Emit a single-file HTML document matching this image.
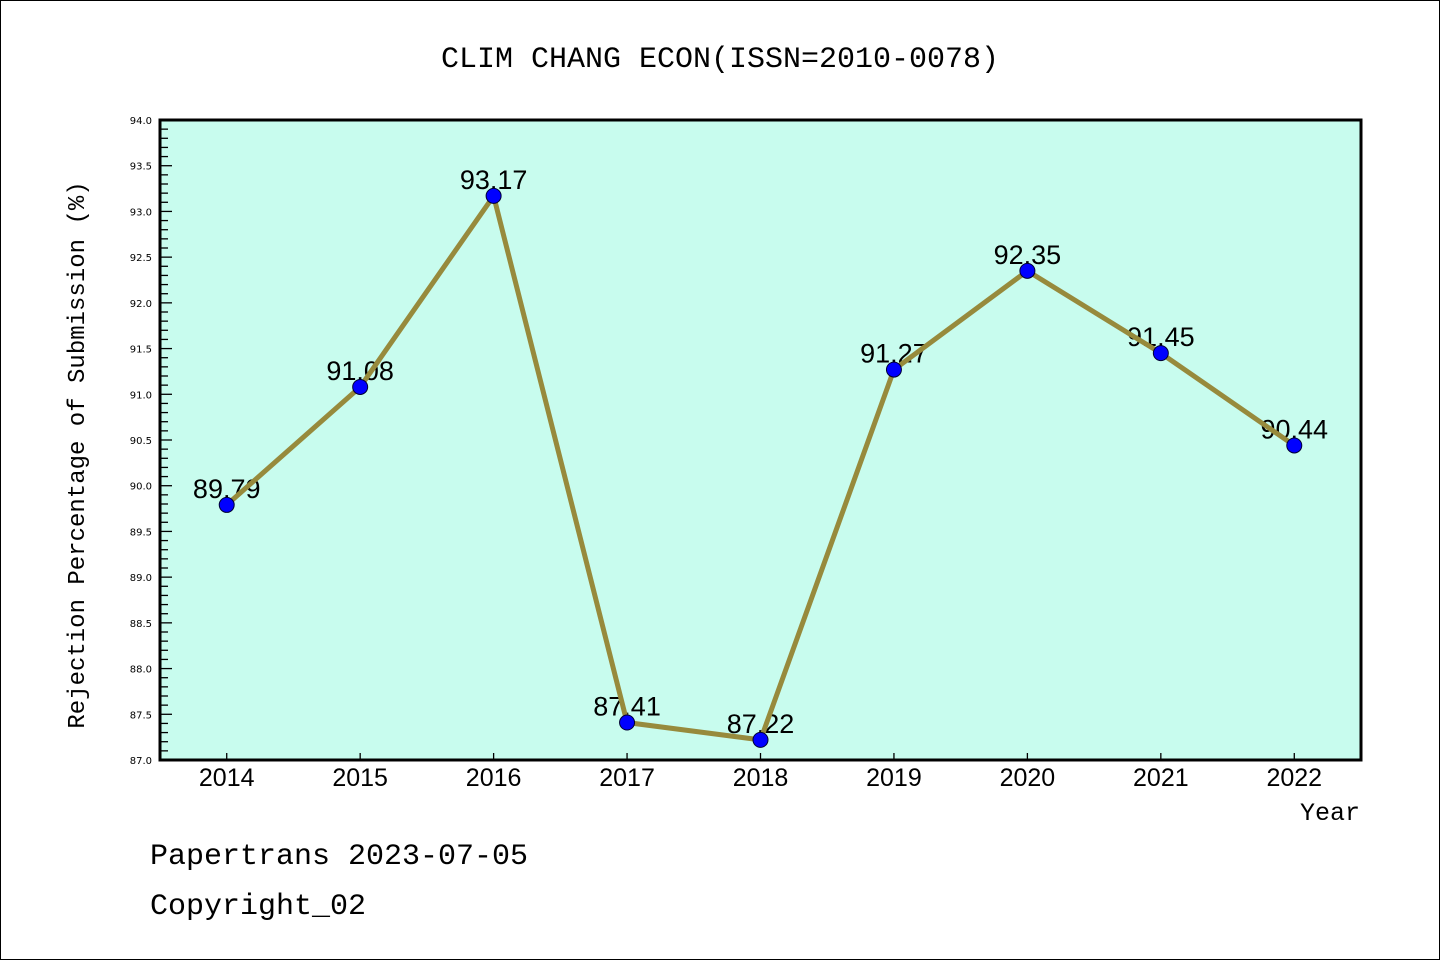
<!DOCTYPE html>
<html><head><meta charset="utf-8"><style>
html,body{margin:0;padding:0;background:#fff;}
svg{display:block;}
</style></head><body>
<svg width="1440" height="960" viewBox="0 0 1440 960" xmlns="http://www.w3.org/2000/svg">
<rect x="0.5" y="0.5" width="1439" height="959" fill="#fff" stroke="#000" stroke-width="1"/>
<text x="720" y="67" text-anchor="middle" font-family="Liberation Mono, monospace" font-size="30">CLIM CHANG ECON(ISSN=2010-0078)</text>
<rect x="160" y="120" width="1201" height="640" fill="#c8fcee"/>
<g id="yaxis"></g>
<g id="xaxis"></g>
<g id="labels"></g>
<g id="series"></g>
<rect x="160" y="120" width="1201" height="640" fill="none" stroke="#000" stroke-width="3"/>
<text transform="translate(84,455) rotate(-90)" text-anchor="middle" font-family="Liberation Mono, monospace" font-size="24">Rejection Percentage of Submission (%)</text>
<text x="1360" y="820" text-anchor="end" font-family="Liberation Mono, monospace" font-size="25">Year</text>
<text x="150" y="864" font-family="Liberation Mono, monospace" font-size="30">Papertrans 2023-07-05</text>
<text x="150" y="914" font-family="Liberation Mono, monospace" font-size="30">Copyright_02</text>
</svg>
<script>
const years = [2014,2015,2016,2017,2018,2019,2020,2021,2022];
const values = [89.79,91.08,93.17,87.41,87.22,91.27,92.35,91.45,90.44];
const valueLabels = ["89.79","91.08","93.17","87.41","87.22","91.27","92.35","91.45","90.44"];
const yTickLabels = ["87.0","87.5","88.0","88.5","89.0","89.5","90.0","90.5","91.0","91.5","92.0","92.5","93.0","93.5","94.0"];

const NS = "http://www.w3.org/2000/svg";
const L=160,R=1361,T=120,B=760, yMin=87, yMax=94, xMin=2013.5, xMax=2022.5;
function xs(v){return L+(v-xMin)/(xMax-xMin)*(R-L);}
function ys(v){return B-(v-yMin)/(yMax-yMin)*(B-T);}
function mk(tag,attrs,parent){const e=document.createElementNS(NS,tag);for(const k in attrs)e.setAttribute(k,attrs[k]);parent.appendChild(e);return e;}

const yg=document.getElementById('yaxis');
for(let i=0;i<=70;i++){
  const v=yMin+i*0.1, y=ys(v), major=(i%5===0);
  const t=mk('line',{x1:L,x2:L+(major?12:8),y1:y,y2:y,stroke:'#000','stroke-width':1.3},yg);
  
  
}
yTickLabels.forEach(s=>{
  const t=mk('text',{x:L-8,y:ys(parseFloat(s))+4,'text-anchor':'end','font-family':'DejaVu Sans, sans-serif','font-size':10},yg);
  t.textContent=s;
  
  
});
const xg=document.getElementById('xaxis');
years.forEach(yr=>{
  const x=xs(yr);
  const t=mk('line',{x1:x,x2:x,y1:B,y2:B-7,stroke:'#000','stroke-width':1.3},xg);
  
  
  const l=mk('text',{x:x,y:B+26,'text-anchor':'middle','font-family':'Liberation Sans, sans-serif','font-size':25},xg);
  l.textContent=String(yr);
  
  
});
const lg=document.getElementById('labels');
years.forEach((yr,i)=>{
  const t=mk('text',{x:xs(yr),y:ys(values[i])-7,'text-anchor':'middle','font-family':'Liberation Sans, sans-serif','font-size':27},lg);
  t.textContent=valueLabels[i];
  
  
});
const sg=document.getElementById('series');
const pts=years.map((yr,i)=>xs(yr)+','+ys(values[i])).join(' ');
const pl=mk('polyline',{points:pts,fill:'none',stroke:'#978a3c','stroke-width':5,'stroke-linejoin':'round'},sg);


years.forEach((yr,i)=>{
  const c=mk('circle',{cx:xs(yr),cy:ys(values[i]),r:7.5,fill:'#0000ff',stroke:'#000033','stroke-width':1},sg);
  
  
});
</script>
</body></html>
